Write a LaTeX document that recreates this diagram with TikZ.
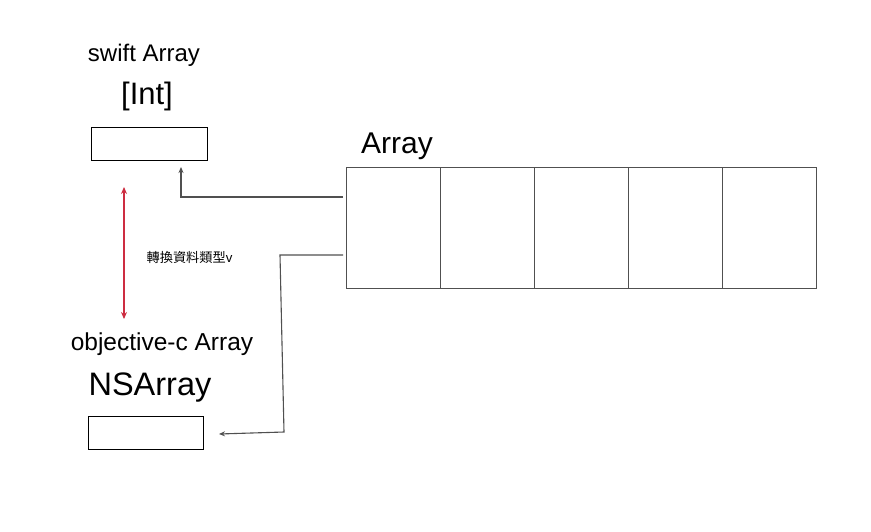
\documentclass[tikz,border=0pt]{standalone}
\usepackage{fontspec}
\setmainfont{Liberation Sans}
\newfontfamily\cjk{Noto Sans CJK TC}
\usetikzlibrary{arrows.meta}
\definecolor{linegray}{RGB}{80,80,80}
\definecolor{redarrow}{RGB}{205,45,65}
\tikzset{
  boxshape/.style={draw=black, line width=1pt, minimum width=116pt, minimum height=33pt, inner sep=0pt},
  cellshape/.style={draw=linegray, line width=1pt, minimum width=94pt, minimum height=121pt, inner sep=0pt},
  label/.style={anchor=base, inner sep=0pt},
  conn/.style={draw=linegray, line width=1.1pt, -{Stealth[length=6pt,width=5pt]}},
  redconn/.style={draw=redarrow, line width=1.1pt, {Stealth[length=7pt,width=6pt]}-{Stealth[length=7pt,width=6pt]}}
}
\begin{document}
\begin{tikzpicture}[x=1pt,y=-1pt]
\useasboundingbox[fill=white] (0,0) rectangle (871,531);
% labels
\node[label, font=\fontsize{24}{28}\selectfont] (swiftlbl) at (144,61) {swift Array};
\node[label, font=\fontsize{31}{36}\selectfont] (intlbl) at (147,104) {[Int]};
\node[label, font=\fontsize{30}{35}\selectfont] (arrlbl) at (397,153) {Array};
\node[label, font=\fontsize{24.5}{28}\selectfont] (objclbl) at (162,350) {objective-c Array};
\node[label, font=\fontsize{32.5}{37}\selectfont] (nslbl) at (150,395) {NSArray};
\node[inner sep=0pt, font=\fontsize{13.2}{15}\selectfont] (convlbl) at (189.5,257) {{\cjk 轉換資料類型}v};
% boxes
\node[boxshape] (swiftbox) at (149,143.5) {};
\node[boxshape, minimum width=115pt] (nsbox) at (145.5,432.5) {};
% array cells
\foreach \i in {1,...,5} {
  \node[cellshape] (c\i) at ({346+47+94*(\i-1)},227.5) {};
}
% connectors
\coordinate (s1) at (343,197);
\coordinate (b1) at (181,197);
\coordinate (t1) at (181,167);
\draw[conn] (s1) -- (b1) -- (t1);
\coordinate (s2) at (343,255);
\coordinate (b2) at (280,255);
\coordinate (b3) at (284,432);
\coordinate (t2) at (219,434);
\draw[conn] (s2) -- (b2) -- (b3) -- (t2);
% red double arrow
\coordinate (r1) at (124,187);
\coordinate (r2) at (124,319);
\draw[redconn] (r1) -- (r2);
\end{tikzpicture}
\end{document}
